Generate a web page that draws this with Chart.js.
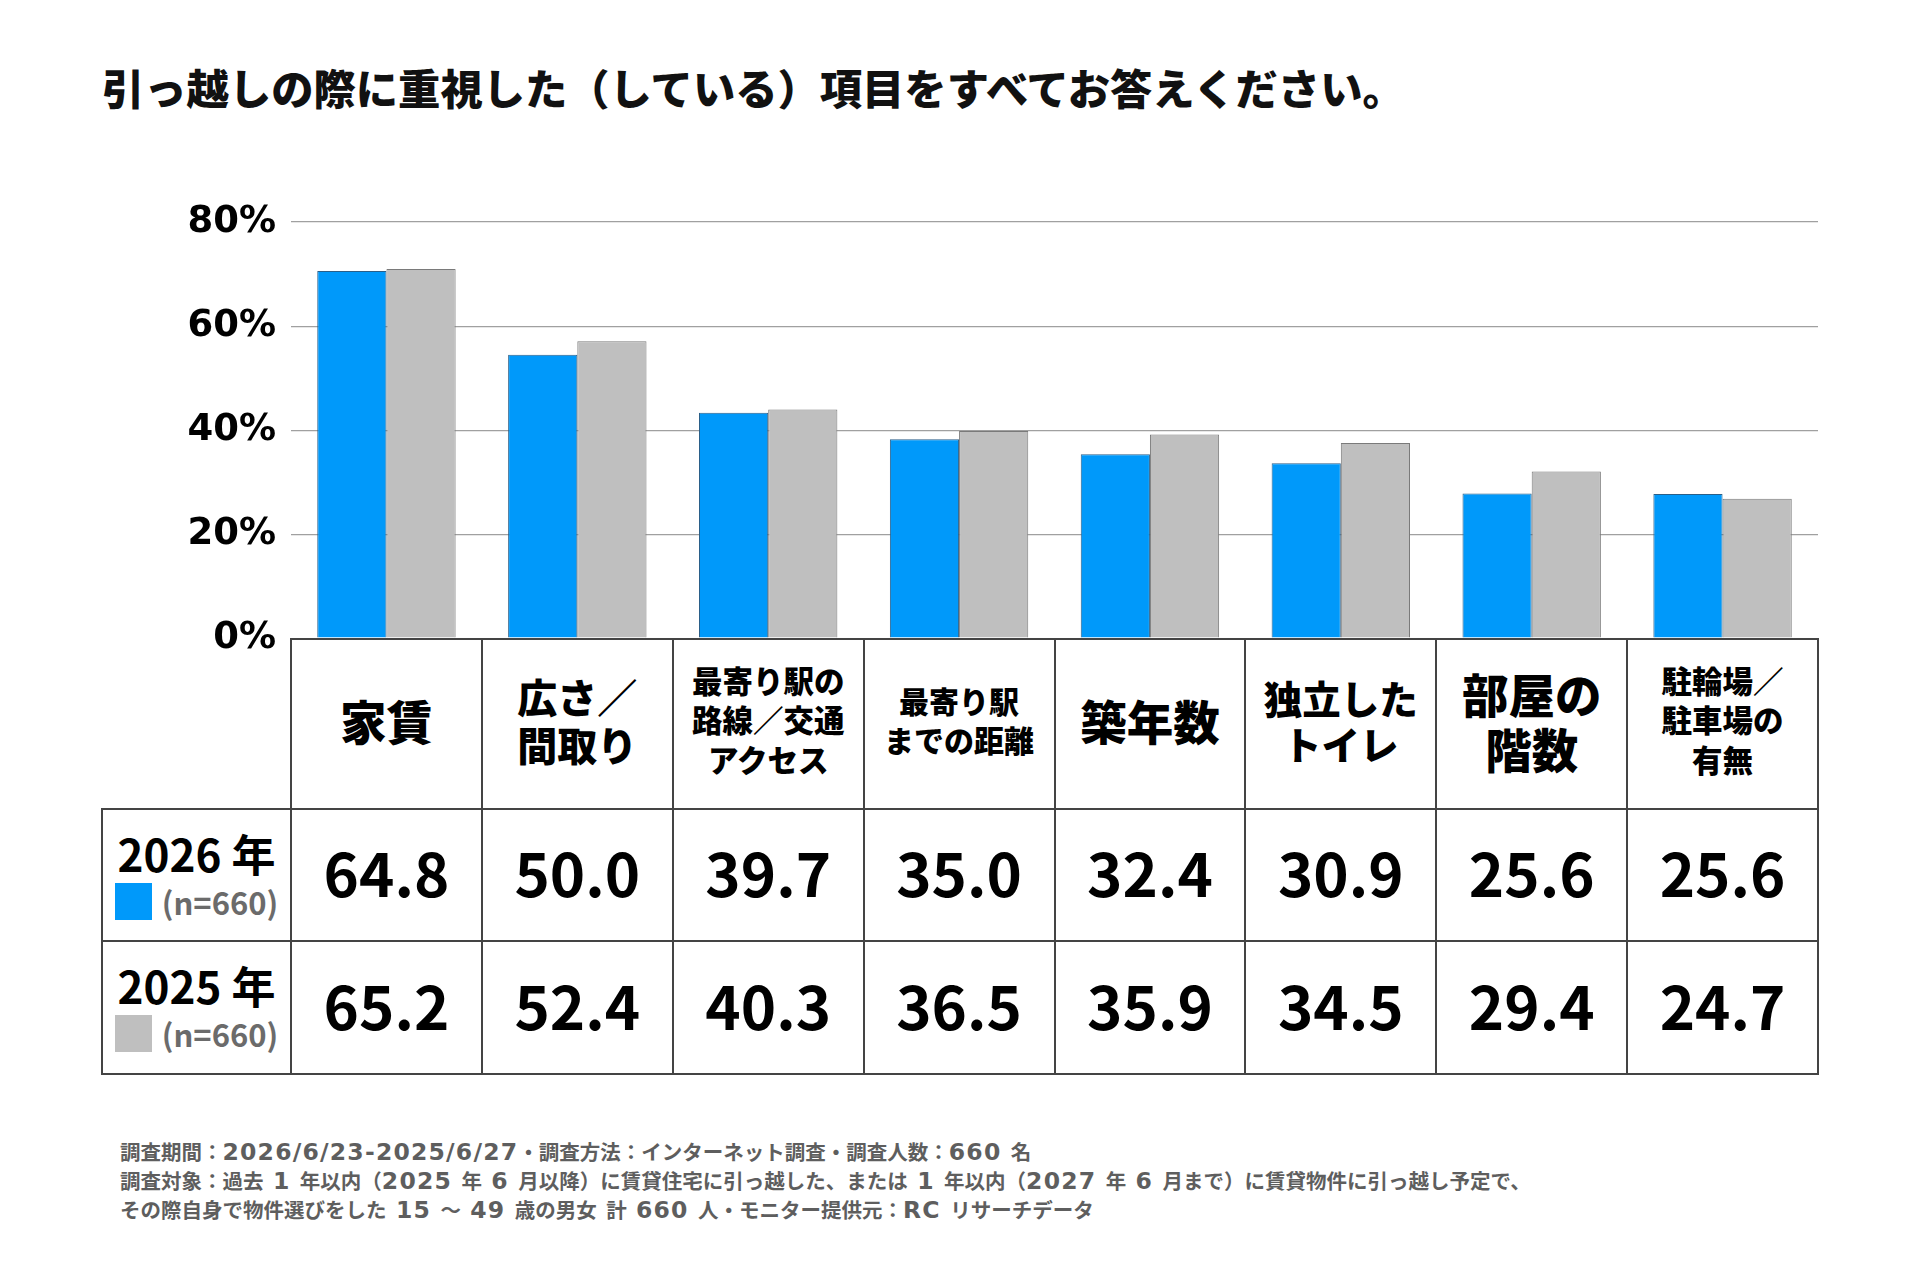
<!DOCTYPE html>
<html lang="ja">
<head>
<meta charset="utf-8">
<script src="https://cdn.jsdelivr.net/npm/chart.js@4.4.1/dist/chart.umd.min.js"></script>
<style>
  html, body { margin: 0; padding: 0; background: #fff; }
  body {
    width: 1920px; height: 1280px; position: relative; overflow: hidden;
    font-family: "Noto Sans CJK JP", "Noto Sans", sans-serif;
  }
  #title {
    position: absolute; left: 102px; top: 64px;
    font-size: 42.3px; line-height: 46px; font-weight: 900; color: #111;
    white-space: nowrap;
  }
  #chartBox { position: absolute; left: 0; top: 180px; width: 1920px; height: 496px; }
  #tbl { position: absolute; left: 0; top: 0; width: 0; height: 0; }
  .cell {
    position: absolute; box-sizing: border-box;
    border: 2px solid #444; background: #fff; color: #000;
    display: flex; align-items: center; justify-content: center;
    text-align: center; font-weight: 700; white-space: pre-line;
  }
  .head { font-weight: 900; padding-bottom: 7px; }
  .num  { font-size: 60px; padding-bottom: 8px; }
  .rowlab { flex-direction: column; justify-content: flex-start; }
  .rowlab .yr { font-size: 44px; line-height: 44px; margin-top: 21px; }
  .rowlab .n  { display: flex; align-items: center; margin-top: 8px; font-size: 31px; line-height: 37px; color: #6b6b6b; }
  .rowlab .sw { width: 37px; height: 37px; margin-right: 10px; }
  #note {
    position: absolute; left: 120px; top: 1137px;
    font-size: 20.5px; line-height: 29px; font-weight: 700; color: #5e5e5e;
    white-space: pre;
  }
  #note .lat { font-family: "DejaVu Sans", sans-serif; font-size: 23.5px; letter-spacing: 1.2px; line-height: 1; }
</style>
</head>
<body>
<div id="title">引っ越しの際に重視した（している）項目をすべてお答えください。</div>
<div id="chartBox"><canvas id="chart"></canvas></div>
<div id="tbl"></div>
<div id="note"></div>

<script>
'use strict';

/* ─────────────────────────────────────────────────────────
   DATA
───────────────────────────────────────────────────────── */
const CATEGORIES = [
  '家賃', '広さ／\n間取り', '最寄り駅の\n路線／交通\nアクセス', '最寄り駅\nまでの距離',
  '築年数', '独立した\nトイレ', '部屋の\n階数', '駐輪場／\n駐車場の\n有無'
];
const SERIES     = ['2026 年', '2025 年'];
const SAMPLE     = ['(n=660)', '(n=660)'];

// bar heights as drawn in the picture (%)
const BARS_2026  = [70.6, 54.5, 43.4, 38.3, 35.4, 33.7, 27.9, 27.8];
const BARS_2025  = [71.0, 57.1, 44.0, 39.9, 39.2, 37.6, 32.1, 26.9];

// values printed in the table (%)
const TABLE_2026 = [64.8, 50.0, 39.7, 35.0, 32.4, 30.9, 25.6, 25.6];
const TABLE_2025 = [65.2, 52.4, 40.3, 36.5, 35.9, 34.5, 29.4, 24.7];

const Y_TICKS    = [0, 20, 40, 60, 80];

const NOTES = [
  '調査期間：2026/6/23-2025/6/27・調査方法：インターネット調査・調査人数：660 名',
  '調査対象：過去 1 年以内（2025 年 6 月以降）に賃貸住宅に引っ越した、または 1 年以内（2027 年 6 月まで）に賃貸物件に引っ越し予定で、',
  'その際自身で物件選びをした 15 ～ 49 歳の男女 計 660 人・モニター提供元：RC リサーチデータ'
];

/* ─────────────────────────────────────────────────────────
   STYLE
───────────────────────────────────────────────────────── */
const BLUE  = '#0099fa';
const GRAY  = '#bfbfbf';
const HEAD_FONT = [46.5, 40, 30.5, 30, 46.5, 38.5, 46.5, 30.5];
const LEFT_COL  = 189;
const ROW_H     = [170, 132, 133];

/* ─────────────────────────────────────────────────────────
   CHART
───────────────────────────────────────────────────────── */
const chart = new Chart(document.getElementById('chart'), {
  type: 'bar',
  data: {
    labels: CATEGORIES.map(c => c.replace(/\n/g, '')),
    datasets: [
      { label: SERIES[0], data: BARS_2026, backgroundColor: BLUE, borderColor: '#2b5f88', borderWidth: 1 },
      { label: SERIES[1], data: BARS_2025, backgroundColor: GRAY, borderColor: '#7a7a7a', borderWidth: 1 }
    ]
  },
  options: {
    responsive: true, maintainAspectRatio: false, animation: false,
    layout: { padding: { top: 42, bottom: 26, right: 102, left: 0 } },
    categoryPercentage: 0.725, barPercentage: 1.0,
    plugins: { legend: { display: false }, tooltip: { enabled: false } },
    scales: {
      x: { display: false },
      y: {
        min: Y_TICKS[0], max: Y_TICKS[Y_TICKS.length - 1],
        afterBuildTicks: s => { s.ticks = Y_TICKS.map(v => ({ value: v })); },
        afterFit: s => { s.width = 291; },
        border: { display: false },
        grid: {
          drawTicks: false,
          color: c => c.tick && c.tick.value === 0 ? '#2a2a2a' : '#a0a0a0',
          lineWidth: c => c.tick && c.tick.value === 0 ? 2.5 : 1.3
        },
        ticks: {
          padding: 15, color: '#000',
          font: { family: 'DejaVu Sans', weight: 'bold', size: 37 },
          callback: v => v + '%'
        }
      }
    }
  }
});

/* ─────────────────────────────────────────────────────────
   TABLE (columns follow the x scale)
───────────────────────────────────────────────────────── */
function cell(x, y, w, h, html, extra = '') {
  const d = document.createElement('div');
  d.className = 'cell ' + extra;
  Object.assign(d.style, { left: (x - 1) + 'px', top: (y - 1) + 'px', width: (w + 2) + 'px', height: (h + 2) + 'px' });
  d.innerHTML = html;
  document.getElementById('tbl').appendChild(d);
  return d;
}

(function buildTable() {
  const area = chart.chartArea;
  const xs   = chart.scales.x;
  const boxTop = document.getElementById('chartBox').offsetTop;
  const cw   = (area.right - area.left) / CATEGORIES.length;
  const top0 = boxTop + area.bottom;
  const rowsY = [top0, top0 + ROW_H[0], top0 + ROW_H[0] + ROW_H[1]];
  const tables = [TABLE_2026, TABLE_2025];
  const swatch = [BLUE, GRAY];

  CATEGORIES.forEach((c, i) => {
    const x0 = xs.getPixelForValue(i) - cw / 2;
    const h = cell(x0, rowsY[0], cw, ROW_H[0], c, 'head');
    h.style.fontSize = HEAD_FONT[i] + 'px';
    h.style.lineHeight = HEAD_FONT[i] > 35 ? '1.2' : '1.3';
    tables.forEach((vals, r) => {
      cell(x0, rowsY[r + 1], cw, ROW_H[r + 1], vals[i].toFixed(1), 'num');
    });
  });

  SERIES.forEach((s, r) => {
    cell(area.left - LEFT_COL, rowsY[r + 1], LEFT_COL, ROW_H[r + 1],
      `<div class="yr">${s}</div><div class="n"><span class="sw" style="background:${swatch[r]}"></span>${SAMPLE[r]}</div>`,
      'rowlab');
  });
})();

/* ─────────────────────────────────────────────────────────
   NOTES (latin runs set wider, as in the source)
───────────────────────────────────────────────────────── */
document.getElementById('note').innerHTML = NOTES
  .map(t => t.replace(/[\x20-\x7e]+/g, m => `<span class="lat">${m}</span>`))
  .join('\n');
</script>
</body>
</html>
